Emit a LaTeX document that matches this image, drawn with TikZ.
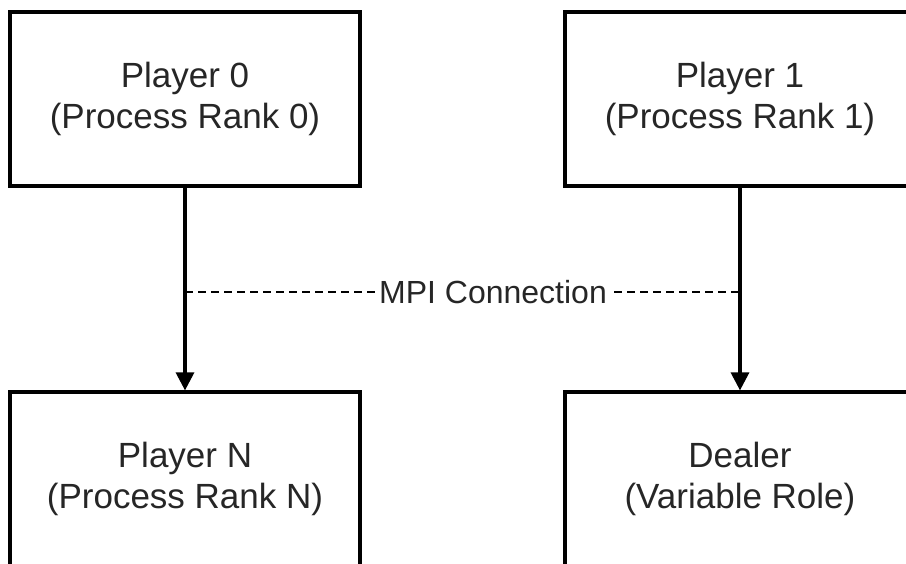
\documentclass[tikz,border=0pt]{standalone}
\usepackage{fontspec}
\setmainfont{Liberation Sans}
\usetikzlibrary{arrows.meta}
\newcommand{\mpiArrow}{{Triangle[length=9pt, width=9pt]}}

\begin{document}
\begin{tikzpicture}[x=0.5pt, y=-0.5pt, font=\fontsize{17.5}{20.5}\selectfont,
	rankbox/.style={draw=black, line width=1.6pt, minimum width=175pt, minimum height=87pt, align=center, text=black!85, inner sep=0pt},
	mpilink/.style={dash pattern=on 4pt off 2.5pt, line width=0.8pt}]
	\useasboundingbox (0,0) rectangle (906,563);
	\clip (0,0) rectangle (906,563);

	\node[rankbox] (p0) at (185,99) {Player 0\\(Process Rank 0)};
	\node[rankbox] (p1) at (740,99) {Player 1\\(Process Rank 1)};
	\node[rankbox] (pN) at (185,479) {Player N\\(Process Rank N)};
	\node[rankbox] (dealer) at (740,479) {Dealer\\(Variable Role)};

	\draw[line width=1.6pt, -\mpiArrow]	(p0) -- (pN);
	\draw[line width=1.6pt, -\mpiArrow]	(p1) -- (dealer);

	\coordinate (mpiL) at (185,292);
	\coordinate (mpiR) at (740,292);
	\draw[mpilink]	(mpiL) -- (mpiR) node[pos=0.555, fill=white, inner sep=1pt, text=black!85, font=\fontsize{16}{18}\selectfont] {MPI Connection};
\end{tikzpicture}
\end{document}
